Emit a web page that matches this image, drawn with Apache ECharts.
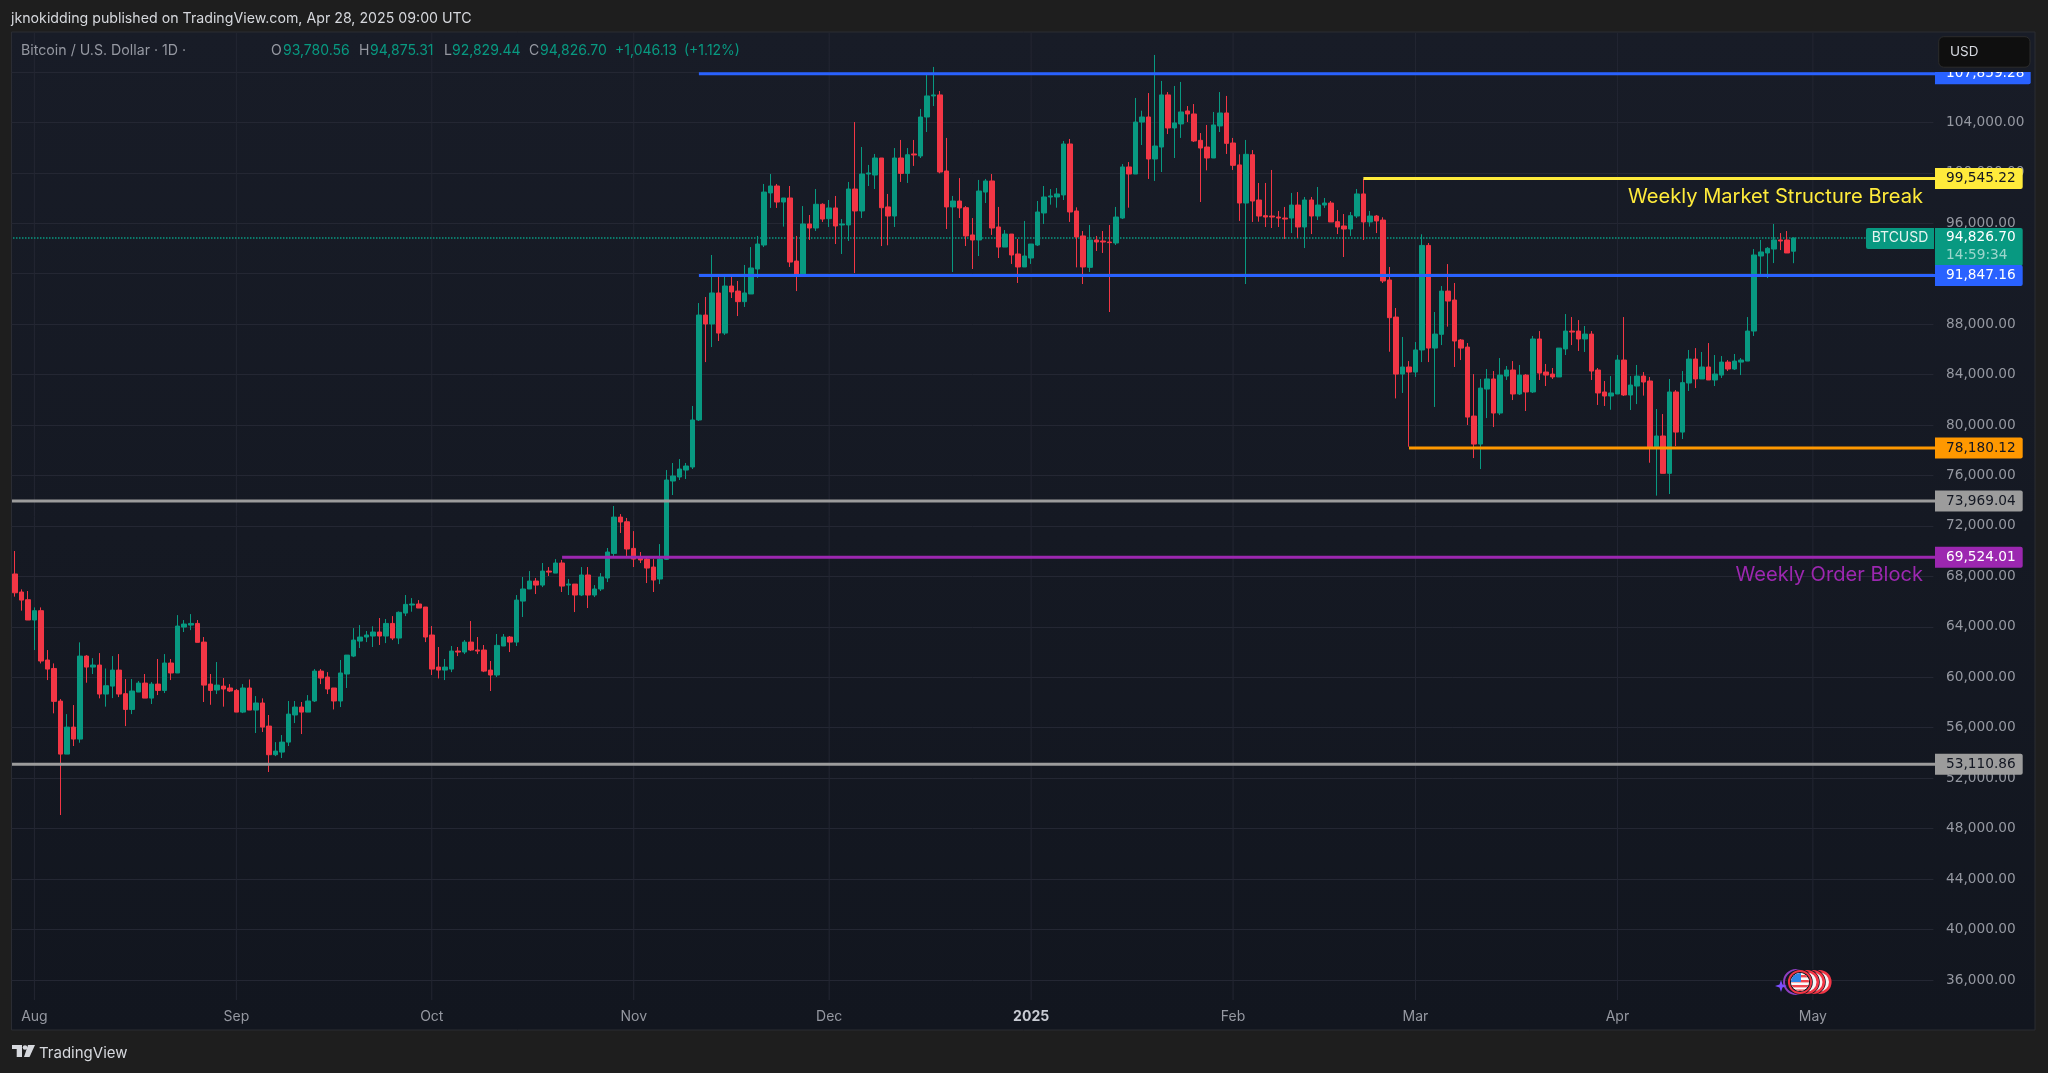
<!DOCTYPE html>
<html>
<head>
<meta charset="utf-8">
<title>BTCUSD 1D</title>
<script src="https://cdn.jsdelivr.net/npm/echarts@6/dist/echarts.min.js"></script>
<style>
  html, body { margin: 0; padding: 0; background: #1e1e1e; }
  #chart { width: 2048px; height: 1073px; }
</style>
</head>
<body>
<div id="chart"></div>
<script>
// daily candles: [open, close, low, high], first one is 2024-07-29
var ohlc = [
  [68190,66700,66390,70010],[66760,66120,65280,66970],[66150,64540,64540,66840],[64540,65280,62160,65540],[65280,61290,61100,65540],
  [61370,60650,59780,62160],[60700,58090,57140,61100],[58110,53910,49080,58270],[53910,56050,53910,57080],[56050,55100,54550,57800],
  [55100,61680,54810,62770],[61680,60810,59570,61760],[60810,60970,60260,61520],[60970,58670,58330,61920],[58670,59330,57670,60700],
  [59300,60570,58350,61680],[60570,58670,58430,61840],[58700,57450,56130,59860],[57450,58910,57080,59860],[58830,59540,58830,59700],
  [59540,58350,58350,60260],[58350,59460,57880,59620],[59460,58960,58590,61450],[58960,61130,58750,61840],[61130,60340,59780,61450],
  [60340,64060,60340,64930],[63980,64220,63590,64540],[64140,64270,63740,65010],[64270,62770,62770,64540],[62790,59380,58040,63190],
  [59460,58960,57820,60260],[58990,59380,58670,61210],[59300,59070,57670,59940],[59150,58910,58830,59460],[58960,57240,57240,59070],
  [57240,59150,57160,59460],[59150,57400,57400,59830],[57400,57960,55580,58510],[57960,56050,55660,58330],[56130,53860,52490,57010],
  [53860,54150,53750,54860],[54070,54860,53600,55420],[54860,57080,54550,58120],[57010,57640,56370,58120],[57640,57240,55500,58040],
  [57240,58120,57240,58590],[58120,60490,58040,60650],[60490,59940,59460,60650],[60020,59070,58670,60410],[59150,58120,57450,59150],
  [58120,60340,57640,61370],[60260,61760,59150,61760],[61680,62950,61600,63900],[62870,63190,62320,64140],[63190,63350,62790,63670],
  [63270,63590,62400,64040],[63590,63270,62560,64700],[63270,64270,62710,64620],[64270,63110,62950,64850],[63110,65150,62630,65220],
  [65090,65780,64850,66520],[65730,65810,65200,66280],[65810,65490,65490,66120],[65570,63190,62790,65570],[63350,60650,60180,64060],
  [60810,60570,59910,62400],[60570,60810,59780,61450],[60650,62080,60410,62480],[62080,62000,61680,62400],[62000,62790,61840,62950],
  [62790,62160,62080,64460],[62160,62080,61840,63190],[62160,60490,60410,62560],[60570,60180,58910,61290],[60180,62530,60020,63430],
  [62480,63190,62480,63430],[63190,62790,62000,63270],[62790,66120,62480,66520],[66040,67000,64780,67950],[67000,67630,67000,68420],
  [67630,67310,66600,67870],[67310,68420,67150,69060],[68420,68340,68030,68740],[68260,69060,68260,69370],[69060,67230,66760,69300],
  [67310,67390,66520,67790],[67390,66520,65170,67390],[66520,68110,66440,68740],[68110,66520,65490,68740],[66520,67000,66360,67310],
  [67000,67950,66840,68260],[67870,69930,67550,70250],[69820,72700,69610,73580],[72700,72310,71440,72940],[72330,70170,69530,72630],
  [70220,69370,68740,71590],[69450,69300,69060,69930],[69370,68660,67470,69610],[68740,67710,66760,69370],[67790,69370,67390,70560],
  [69350,75640,69300,76430],[75560,75960,74450,76990],[75880,76510,75640,77300],[76430,76750,75720,76990],[76670,80400,76510,81510],
  [80400,88720,80320,89670],[88720,88010,84990,90150],[88010,90470,86180,93480],[90470,87290,86660,91810],[87290,91020,87140,91890],
  [91020,90550,90070,91810],[90620,89780,88640,91420],[89780,90470,89360,92690],[90390,92450,90390,94110],[92370,94350,91660,94990],
  [94270,98470,94110,99110],[98400,98950,97210,99900],[98950,97680,97210,99110],[97680,98000,95730,98000],[98000,92920,92530,98950],
  [93000,91890,90620,94990],[91890,95940,91890,97360],[95940,95620,94670,96650],[95620,97500,95380,98710],[97500,96330,96100,97580],
  [96360,97210,95700,97840],[97210,95780,94350,98160],[95860,95940,93560,96330],[95860,98710,94590,99270],[98710,96970,92050,104020],
  [96970,99900,96410,102040],[99900,99980,98950,100620],[99820,101170,98710,101490],[101170,97230,94190,101170],[97290,96570,94250,98320],
  [96570,101170,95700,101960],[101170,99950,99270,102600],[99950,101430,99190,101960],[101490,101410,100540,102600],[101330,104420,101170,105060],
  [104420,106090,103230,107880],[106090,106170,105290,108390],[106170,100060,99950,106480],[100140,97290,95540,102760],[97290,97760,92130,98160],
  [97760,97210,96410,99580],[97230,94990,94190,97360],[95070,94670,92370,96410],[94670,98550,93400,99430],[98470,99350,97600,99510],
  [99350,95620,95070,99900],[95700,94110,93240,97290],[94110,95140,94110,95460],[95140,93480,92770,95140],[93560,92530,91260,94750],
  [92530,93400,92530,96180],[93240,94350,92770,94350],[94270,96890,94190,97760],[96810,98080,95940,98950],[98080,98160,97470,98710],
  [98080,98320,97230,98790],[98240,102280,97840,102520],[102280,96890,96100,102680],[96970,94910,92500,97260],[94990,92530,91180,95380],
  [92500,94670,92130,95860],[94670,94510,93800,94990],[94590,94510,93640,95380],[94510,94460,88960,95860],[94430,96490,94270,97290],
  [96410,100460,96330,100690],[100460,99900,97230,100850],[99900,104020,99900,105930],[104020,104420,102200,104920],[104420,101090,99510,106320],
  [101090,102120,99350,109340],[102040,106170,100060,107280],[106170,103550,103070,106400],[103550,103950,101170,106880],[103870,104820,102760,107200],
  [104900,104660,104020,105290],[104660,102520,102440,105450],[102570,101960,97680,103150],[102040,101170,100190,103790],[101170,103790,101170,104820],
  [103710,104740,103230,106400],[104740,102330,101490,106090],[102360,100590,100220,102760],[100620,97600,96180,101460],[97600,101460,91180,102600],
  [101430,97760,96100,101800],[97840,96570,96120,99190],[96600,96490,95700,99190],[96570,96490,95620,100220],[96490,96410,95700,96970],
  [96410,96330,94750,97290],[96410,97440,95220,98400],[97440,95700,94830,98470],[95700,97840,94030,98080],[97840,96570,95140,98080],
  [96570,97440,96250,98870],[97440,97600,97210,98000],[97600,96100,96100,97760],[96120,95700,95140,97050],[95780,95540,93320,96730],
  [95540,96600,94990,96890],[96570,98320,96410,98710],[98320,96100,94670,99510],[96100,96570,95730,96970],[96570,96180,95220,96650],
  [96250,91420,91260,96470],[91500,88510,85810,92530],[88560,84040,82110,89280],[84040,84600,82540,86980],[84600,84200,78280,85070],
  [84200,85950,83810,86580],[85950,94240,84990,95120],[94240,86100,84990,94430],[86100,87210,81430,88960],[87190,90620,86340,91020],
  [90620,89830,87800,92760],[89910,86660,84600,91260],[86740,86100,85150,86820],[86180,80630,80000,86500],[80710,78490,77380,84040],
  [78490,82930,76510,83650],[82850,83650,80550,84440],[83650,80950,79840,84280],[80950,83960,80790,85310],[83880,84360,83570,84680],
  [84360,82460,81980,85070],[82460,83960,82380,84760],[83960,82620,81110,84040],[82620,86820,82540,87060],[86820,84120,83570,87450],
  [84200,83960,83090,84840],[84040,83810,83650,84520],[83810,86100,83810,86100],[86030,87450,85550,88800],[87450,87370,86340,88560],
  [87450,86820,85870,88320],[86820,87210,85790,87850],[87210,84280,83570,87450],[84360,82540,81590,84520],[82620,82300,81510,83490],
  [82300,82540,81210,83880],[82460,85150,82460,85550],[85150,82380,82300,88560],[82380,83170,81190,83880],[83090,83880,81660,84760],
  [83880,83410,82330,84200],[83490,78260,77010,83810],[78260,79130,74400,81270],[79130,76170,76170,80870],[76170,82620,74530,83650],
  [82620,79440,78330,82770],[79440,83360,78890,84280],[83330,85230,82700,85950],[85230,83650,82930,86100],[83650,84600,83650,85790],
  [84600,83570,83570,86500],[83570,84040,83090,85550],[83960,84990,83730,85470],[84990,84440,84280,85150],[84440,85070,84360,85630],
  [84990,85150,83960,85310],[85070,87450,85070,88560],[87450,93480,87060,93950],[93400,93720,91890,94670],[93640,94010,91650,94110],
  [93950,94670,92840,95940],[94670,94590,93870,95220],[94670,93640,93640,95380],[93780.56,94826.70,92829.44,94875.31]
];

// month ticks along the time axis
var monthDates = ['2024-08-01','2024-09-01','2024-10-01','2024-11-01','2024-12-01','2025-01-01','2025-02-01','2025-03-01','2025-04-01','2025-05-01'];
var monthLabels = ['Aug','Sep','Oct','Nov','Dec','2025','Feb','Mar','Apr','May'];

// horizontal levels drawn on the chart
var levelPrices = [107859.28, 91847.16, 99545.22, 78180.12, 73969.04, 69524.01, 53110.86];
var levelTags = ['107,859.28', '91,847.16', '99,545.22', '78,180.12', '73,969.04', '69,524.01', '53,110.86'];
var levelStarts = ['2024-11-11', '2024-11-11', '2025-02-21', '2025-02-28', '2024-07-29', '2024-10-21', '2024-07-29'];
var levelColors = ['#2962ff', '#2962ff', '#ffeb3b', '#ff9800', '#9c9c9c', '#9c27b0', '#9c9c9c'];
var levelTextColors = ['#ffffff', '#ffffff', '#131722', '#131722', '#131722', '#ffffff', '#131722'];

var lastPrice = 94826.70;
var lastPriceTag = '94,826.70';
var countdown = '14:59:34';

var UP = '#089981';
var DOWN = '#f23645';
var FONT = 'Inter, "Noto Sans", sans-serif';
var PRICE_FONT = '"DejaVu Sans", sans-serif';

// one category per day, the axis runs on past the last candle
var categories = [];
var day0 = Date.UTC(2024, 6, 29);
for (var n = 0; n < 295; n++) {
  categories.push(new Date(day0 + n * 86400000).toISOString().slice(0, 10));
}

var gridLeft = 11.6, gridWidth = 1921.8;
var tagLeft = 1935, tagRight = 2022.7;

function renderLevel(params, api) {
  var i = api.value(2);
  var p = api.coord([api.value(0), api.value(1)]);
  var x0 = levelStarts[i] === categories[0] ? 12 : p[0];
  var right = i === 0 ? 2030.7 : tagRight;
  return {
    type: 'group',
    children: [
      { type: 'line', shape: { x1: x0, y1: p[1], x2: tagLeft, y2: p[1] },
        style: { stroke: levelColors[i], lineWidth: 3 } },
      { type: 'rect', shape: { x: tagLeft, y: p[1] - 10.5, width: right - tagLeft, height: 21, r: [0, 2, 2, 0] },
        style: { fill: levelColors[i] } },
      { type: 'text', style: { x: 1946, y: p[1], text: levelTags[i], fill: levelTextColors[i],
        font: '13.7px ' + PRICE_FONT, align: 'left', verticalAlign: 'middle' } }
    ]
  };
}

function renderLastPrice(params, api) {
  var p = api.coord([0, api.value(0)]);
  return {
    type: 'group',
    children: [
      { type: 'line', shape: { x1: 13, y1: p[1], x2: 1866, y2: p[1] },
        style: { stroke: UP, lineWidth: 1.3, lineDash: [1.5, 1.5] } },
      { type: 'rect', shape: { x: 1866, y: p[1] - 10, width: 68, height: 21, r: [2, 0, 0, 2] }, style: { fill: UP } },
      { type: 'text', style: { x: 1900, y: p[1], text: 'BTCUSD', fill: '#e6f4f1', font: '14px ' + FONT, align: 'center', verticalAlign: 'middle' } },
      { type: 'rect', shape: { x: tagLeft, y: p[1] - 10, width: tagRight - tagLeft, height: 38, r: [0, 2, 2, 0] }, style: { fill: UP } },
      { type: 'text', style: { x: 1946, y: p[1] - 0.5, text: lastPriceTag, fill: '#ffffff', font: '13.7px ' + PRICE_FONT, align: 'left', verticalAlign: 'middle' } },
      { type: 'text', style: { x: 1946, y: p[1] + 17.5, text: countdown, fill: 'rgba(255,255,255,0.6)', font: '13.7px ' + PRICE_FONT, align: 'left', verticalAlign: 'middle' } }
    ]
  };
}

function renderMonthLine(params, api) {
  var p = api.coord([api.value(0), 70000]);
  return { type: 'line', shape: { x1: p[0], y1: 33, x2: p[0], y2: 1000 }, style: { stroke: '#232632', lineWidth: 1 } };
}

function headerText(text, x, y, fill, size) {
  return { type: 'text', z: 60, silent: true, style: { x: x, y: y, text: text, fill: fill, font: size + 'px ' + FONT, textVerticalAlign: 'middle' } };
}

// economic event markers near the bottom right
var flagSvg = '<svg xmlns="http://www.w3.org/2000/svg" width="56" height="30" viewBox="0 0 56 30">' +
  '<defs><clipPath id="c"><circle cx="18" cy="15" r="9"/></clipPath></defs>' +
  '<circle cx="14" cy="15" r="12" fill="none" stroke="#8e3fc0" stroke-width="2"/>' +
  [37.5, 31, 25, 18].map(function (cx) {
    return '<circle cx="' + cx + '" cy="15" r="12.8" fill="#131722"/><circle cx="' + cx + '" cy="15" r="10.8" fill="#f5f5f5" stroke="#f23645" stroke-width="2.6"/>';
  }).join('') +
  '<circle cx="18" cy="15" r="9.5" fill="none" stroke="#131722" stroke-width="1.2"/>' +
  '<g clip-path="url(#c)"><rect x="8" y="5" width="20" height="20" fill="#fafafa"/>' +
  '<rect x="8" y="8" width="20" height="2.4" fill="#f0444e"/><rect x="8" y="13" width="20" height="2.4" fill="#f0444e"/>' +
  '<rect x="8" y="18" width="20" height="2.4" fill="#f0444e"/><rect x="8" y="22.5" width="20" height="2.4" fill="#f0444e"/>' +
  '<rect x="8" y="5" width="11" height="10" fill="#2f86e8"/></g></svg>';

var chart = echarts.init(document.getElementById('chart'));
chart.setOption({
  animation: false,
  backgroundColor: '#1e1e1e',
  grid: { left: gridLeft, width: gridWidth, top: 21.4, height: 1009.05, containLabel: false },
  xAxis: {
    type: 'category',
    data: categories,
    boundaryGap: true,
    axisLine: { show: false },
    axisTick: { show: false },
    splitLine: { show: false },
    axisLabel: {
      inside: true,
      margin: 7,
      hideOverlap: false,
      interval: function (i, value) { return monthDates.indexOf(value) >= 0; },
      formatter: function (value) {
        var label = monthLabels[monthDates.indexOf(value)];
        return label === '2025' ? '{year|' + label + '}' : label;
      },
      color: '#9598a1',
      fontFamily: FONT,
      fontSize: 14,
      rich: { year: { color: '#c8cbd3', fontWeight: 'bold', fontFamily: FONT, fontSize: 14 } }
    }
  },
  yAxis: {
    type: 'value',
    position: 'right',
    min: 32000,
    max: 112000,
    interval: 4000,
    axisLine: { show: false },
    axisTick: { show: false },
    splitLine: { showMinLine: false, showMaxLine: false, lineStyle: { color: '#242733', width: 1 } },
    axisLabel: {
      margin: 12.6,
      color: '#9598a1',
      fontFamily: PRICE_FONT,
      fontSize: 13.7,
      formatter: function (v) {
        if (v <= 32000 || v >= 112000) return '';
        return v.toLocaleString('en-US', { minimumFractionDigits: 2 });
      }
    }
  },
  series: [
    {
      name: 'Months', type: 'custom', z: 0, silent: true, clip: false,
      data: monthDates.map(function (d) { return [categories.indexOf(d)]; }),
      encode: { x: 0 },
      renderItem: renderMonthLine
    },
    {
      name: 'Last price', type: 'custom', z: 1, silent: true, clip: false,
      data: [[lastPrice]],
      encode: { y: 0 },
      renderItem: renderLastPrice
    },
    {
      name: 'BTCUSD', type: 'candlestick', z: 2, silent: true,
      data: ohlc,
      barWidth: 5,
      itemStyle: { color: UP, color0: DOWN, borderColor: UP, borderColor0: DOWN, borderWidth: 1 }
    },
    {
      name: 'Levels', type: 'custom', z: 3, silent: true, clip: false,
      data: levelPrices.map(function (p, i) { return [categories.indexOf(levelStarts[i]), p, i]; }),
      encode: { x: 0, y: 1 },
      renderItem: renderLevel
    }
  ],
  graphic: [
    // chart pane
    { type: 'rect', z: -10, silent: true, shape: { x: 11.5, y: 32, width: 2023.5, height: 998 },
      style: { stroke: '#2a2c33', lineWidth: 1,
        fill: { type: 'linear', x: 0, y: 0, x2: 0, y2: 1, colorStops: [{ offset: 0, color: '#181c27' }, { offset: 1, color: '#12161f' }] } } },
    // price scale above the top level, the USD box sits on it
    { type: 'rect', z: 50, silent: true, shape: { x: 1935, y: 33, width: 99, height: 39 }, style: { fill: '#181c27' } },
    { type: 'rect', z: 51, silent: true, shape: { x: 1938.7, y: 36.7, width: 91.3, height: 30.5, r: 5 }, style: { fill: '#0f0f0f', stroke: '#2c2c2c', lineWidth: 1 } },
    headerText('USD', 1950, 52, '#d8dbe2', 13.5),
    headerText('jknokidding published on TradingView.com, Apr 28, 2025 09:00 UTC', 11, 18.5, '#d6d8dd', 14.2),
    headerText('Bitcoin / U.S. Dollar · 1D ·', 21, 51, '#9598a1', 14.2),
    headerText('O', 271, 51, '#9598a1', 14),
    headerText('93,780.56', 283, 51, UP, 14),
    headerText('H', 359, 51, '#9598a1', 14),
    headerText('94,875.31', 370, 51, UP, 14),
    headerText('L', 444, 51, '#9598a1', 14),
    headerText('92,829.44', 452, 51, UP, 14),
    headerText('C', 529, 51, '#9598a1', 14),
    headerText('94,826.70', 540, 51, UP, 14),
    headerText('+1,046.13', 615, 51, UP, 14),
    headerText('(+1.12%)', 684, 51, UP, 14),
    // notes written on the chart
    { type: 'text', z: 60, silent: true, style: { x: 1923, y: 197, text: 'Weekly Market Structure Break', fill: '#ffeb3b', font: '20.1px ' + FONT, textAlign: 'right', textVerticalAlign: 'middle' } },
    { type: 'text', z: 60, silent: true, style: { x: 1923, y: 575, text: 'Weekly Order Block', fill: '#9c27b0', font: '20.1px ' + FONT, textAlign: 'right', textVerticalAlign: 'middle' } },
    // event markers
    { type: 'image', z: 60, silent: true, style: { image: 'data:image/svg+xml;charset=utf-8,' + encodeURIComponent(flagSvg), x: 1782, y: 967, width: 56, height: 30 } },
    { type: 'polygon', z: 61, silent: true, shape: { points: [[1781, 980], [1782.5, 984.5], [1787, 986], [1782.5, 987.5], [1781, 992], [1779.5, 987.5], [1775, 986], [1779.5, 984.5]] }, style: { fill: '#7c4dff' } },
    // TradingView footer
    { type: 'polygon', z: 60, silent: true, shape: { points: [[12, 1045], [22, 1045], [22, 1057], [16.7, 1057], [16.7, 1049], [12, 1049]] }, style: { fill: '#d6d8dd' } },
    { type: 'circle', z: 60, silent: true, shape: { cx: 25, cy: 1047.5, r: 2.3 }, style: { fill: '#d6d8dd' } },
    { type: 'polygon', z: 60, silent: true, shape: { points: [[28, 1045], [35, 1045], [29.5, 1057], [24, 1057]] }, style: { fill: '#d6d8dd' } },
    headerText('TradingView', 39, 1053, '#d6d8dd', 15)
  ]
});
window.addEventListener('resize', function () { chart.resize(); });
</script>
</body>
</html>
